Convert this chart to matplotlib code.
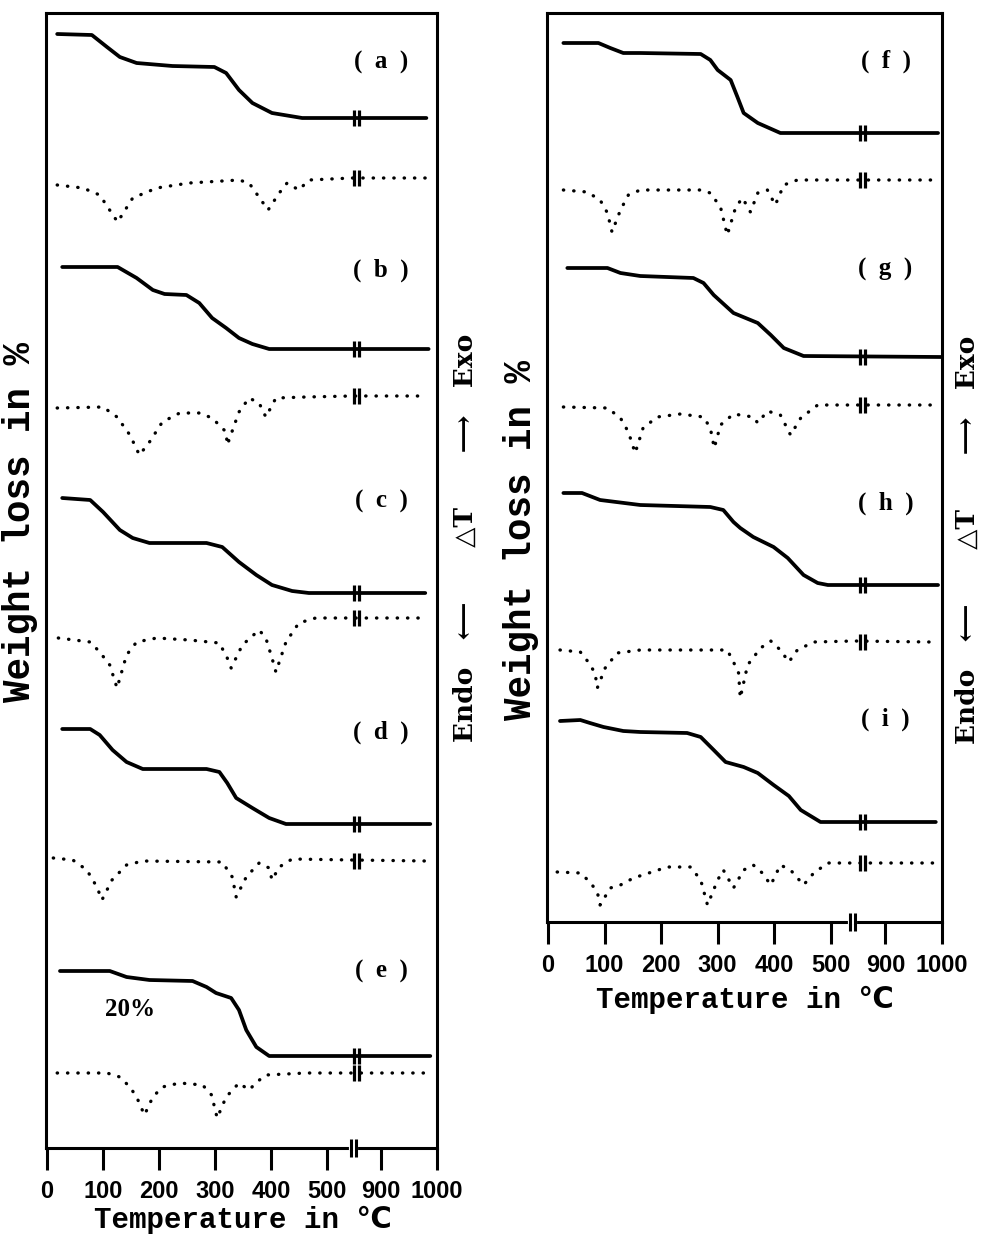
import numpy as np
import matplotlib.pyplot as plt

# ---- TG / DTA traces ----
# temperatures in degC; TG = downward drop from the start level, DTA = deflection (neg = endo)
a_tg_t = [18, 80, 107, 130, 160, 224, 299, 320, 343, 367, 402, 456, 981]
a_tg_y = [0, 1, 13, 23, 29, 32, 33, 39, 56, 69, 79, 84, 84]
a_dta_t = [18, 64, 94, 126, 153, 196, 254, 343, 361, 395, 415, 429, 450, 468, 545, 984]
a_dta_y = [-7, -10, -17, -44, -20, -10, -5, -2, -5, -32, -15, -5, -12, -2, 0, 0]

b_tg_t = [27, 126, 160, 189, 210, 249, 272, 295, 320, 343, 367, 397, 985]
b_tg_y = [0, 0, 11, 23, 27, 28, 36, 51, 61, 71, 77, 82, 82]
b_dta_t = [18, 100, 125, 148, 165, 183, 206, 237, 272, 295, 320, 322, 343, 361, 379, 391, 409, 463, 545, 981]
b_dta_y = [-12, -11, -21, -39, -59, -46, -26, -17, -17, -22, -36, -49, -16, -2, -7, -21, -2, -1, 0, 0]

c_tg_t = [27, 77, 100, 130, 153, 183, 285, 313, 343, 374, 402, 438, 468, 979]
c_tg_y = [0, 2, 14, 32, 40, 45, 45, 49, 64, 77, 87, 93, 95, 95]
c_dta_t = [20, 77, 94, 112, 125, 142, 160, 196, 254, 308, 322, 329, 349, 379, 391, 402, 409, 427, 450, 480, 545, 979]
c_dta_y = [-20, -24, -34, -47, -70, -37, -24, -20, -22, -25, -40, -50, -27, -12, -20, -40, -54, -24, -5, 0, 0, 0]

d_tg_t = [27, 77, 94, 117, 142, 171, 285, 308, 322, 338, 367, 397, 427, 988]
d_tg_y = [0, 0, 6, 21, 33, 40, 40, 43, 54, 69, 79, 89, 95, 95]
d_dta_t = [11, 46, 71, 89, 98, 116, 142, 171, 313, 331, 338, 356, 379, 397, 402, 415, 438, 545, 981]
d_dta_y = [2, 0, -10, -27, -40, -20, -5, -1, -2, -17, -37, -17, -3, -8, -20, -7, 1, 0, -1]

e_tg_t = [23, 112, 142, 183, 260, 285, 302, 329, 343, 356, 374, 397, 988]
e_tg_y = [0, 0, 6, 9, 10, 16, 22, 27, 39, 59, 76, 85, 85]
e_dta_t = [18, 107, 130, 148, 160, 174, 189, 206, 237, 278, 294, 304, 320, 343, 361, 375, 391, 463, 534, 981]
e_dta_y = [0, 0, -4, -14, -24, -42, -24, -14, -10, -12, -22, -45, -24, -10, -17, -9, -2, 0, 0, 0]

f_tg_t = [27, 89, 110, 133, 163, 270, 287, 300, 323, 335, 346, 371, 411, 434, 993]
f_tg_y = [0, 0, 5, 10, 10, 11, 17, 27, 37, 54, 70, 80, 90, 90, 90]
f_dta_t = [27, 69, 92, 105, 113, 128, 142, 163, 270, 287, 305, 317, 332, 344, 358, 371, 388, 402, 417, 441, 541, 986]
f_dta_y = [-10, -12, -20, -33, -52, -30, -15, -10, -10, -13, -27, -55, -27, -18, -32, -13, -10, -25, -5, 0, 0, 0]

g_tg_t = [34, 105, 128, 163, 257, 275, 293, 328, 371, 394, 417, 452, 998]
g_tg_y = [0, 0, 5, 8, 10, 15, 27, 45, 55, 67, 80, 88, 89]
g_dta_t = [27, 105, 128, 142, 154, 168, 193, 234, 275, 287, 294, 305, 328, 363, 371, 388, 411, 429, 447, 477, 544, 993]
g_dta_y = [-2, -3, -13, -27, -48, -23, -12, -9, -12, -23, -43, -20, -9, -12, -18, -6, -10, -30, -13, 0, 0, 0]

h_tg_t = [27, 60, 92, 163, 287, 310, 328, 340, 363, 399, 424, 452, 477, 495, 993]
h_tg_y = [0, 0, 7, 12, 14, 17, 29, 35, 44, 54, 65, 82, 90, 92, 92]
h_dta_t = [21, 57, 71, 83, 87, 101, 122, 163, 317, 328, 337, 340, 353, 376, 394, 411, 426, 441, 470, 541, 980]
h_dta_y = [-8, -10, -20, -31, -46, -26, -11, -8, -8, -20, -31, -56, -23, -6, 1, -8, -20, -8, 0, 1, 0]

i_tg_t = [21, 57, 74, 98, 133, 163, 246, 270, 293, 314, 346, 371, 399, 426, 447, 482, 989]
i_tg_y = [0, -1, 2, 6, 10, 11, 12, 16, 29, 41, 46, 52, 64, 75, 89, 101, 101]
i_dta_t = [16, 57, 74, 87, 92, 110, 128, 151, 211, 252, 270, 282, 300, 310, 328, 346, 363, 379, 394, 411, 429,
           452, 470, 495, 530, 986]
i_dta_y = [-9, -10, -19, -29, -42, -25, -22, -15, -4, -4, -17, -42, -17, -7, -25, -7, -2, -10, -22, -2, -7,
           -22, -10, 0, 0, 0]

tick_temps = [0, 100, 200, 300, 400, 500, 900, 1000]
tick_labels = ['0', '100', '200', '300', '400', '500', '900', '1000']


def tpos(t):
    # broken temperature axis: 500 .. 900 squeezed out
    t = np.asarray(t, dtype=float)
    return np.where(t <= 550, t, t - 303)


W, H = 982, 1235
fig = plt.figure(figsize=(W / 100, H / 100), dpi=100)


def rect(l, t, r, b):
    return [l / W, 1 - b / H, (r - l) / W, (b - t) / H]


axL = fig.add_axes(rect(46, 13, 437, 1148))
axR = fig.add_axes(rect(547, 13, 942, 922))
axL.set_ylim(1148, 13)
axR.set_ylim(922, 13)

# (axes, letter, tg, dta, tg start level, dta base level, label level)
samples = [
    (axL, 'a', a_tg_t, a_tg_y, a_dta_t, a_dta_y, 34, 178, 62),
    (axL, 'b', b_tg_t, b_tg_y, b_dta_t, b_dta_y, 267, 396, 270),
    (axL, 'c', c_tg_t, c_tg_y, c_dta_t, c_dta_y, 498, 618, 501),
    (axL, 'd', d_tg_t, d_tg_y, d_dta_t, d_dta_y, 729, 860, 732),
    (axL, 'e', e_tg_t, e_tg_y, e_dta_t, e_dta_y, 971, 1073, 971),
    (axR, 'f', f_tg_t, f_tg_y, f_dta_t, f_dta_y, 43, 180, 61),
    (axR, 'g', g_tg_t, g_tg_y, g_dta_t, g_dta_y, 268, 405, 269),
    (axR, 'h', h_tg_t, h_tg_y, h_dta_t, h_dta_y, 493, 642, 503),
    (axR, 'i', i_tg_t, i_tg_y, i_dta_t, i_dta_y, 721, 863, 719),
]
curve_break = {axL: 553, axR: 557}
axis_break = {axL: 548, axR: 539}
serif = ['Liberation Serif', 'DejaVu Serif']

for ax, let, tt, ty, dt, dy, top, base, ly in samples:
    tg = top + np.asarray(ty)
    ax.plot(tpos(tt), tg, color='k', lw=2.7, solid_joinstyle='round', solid_capstyle='round')
    dta = base - np.asarray(dy)
    ax.plot(tpos(dt), dta, color='k', lw=2.4, linestyle=(0, (0.1, 3.0)), dash_capstyle='round')
    ub = curve_break[ax]
    for yy in (tg[-1], dta[-1]):
        ax.plot([ub - 4.5, ub + 4.5], [yy, yy], ls='none', marker='|', ms=11, mew=2.3, color='k')
    ax.text(0.857, ly, '(  %s  )' % let, transform=ax.get_yaxis_transform(), ha='center', va='center',
            fontsize=18, fontweight='bold', family=serif)

axL.text(149, 1010, '20%', ha='center', va='center', fontsize=18, fontweight='bold', family=serif)

for ax in (axL, axR):
    ax.set_xlim(-2, 697)
    ax.set_yticks([])
    for s in ax.spines.values():
        s.set_linewidth(2.2)
    ax.set_xticks(tpos(tick_temps))
    ax.set_xticklabels(tick_labels, fontsize=17, fontweight='bold',
                       family=['Liberation Sans', 'DejaVu Sans'])
    ax.tick_params(axis='x', direction='out', length=16, width=2.2, pad=7)
    yb = ax.get_ylim()[0]
    ab = axis_break[ax]
    ax.plot([ab - 4, ab + 4], [yb, yb], color='white', lw=3, clip_on=False, zorder=4)
    ax.plot([ab - 4.5, ab + 4.5], [yb, yb], ls='none', marker='|', ms=13, mew=2.2, color='k',
            clip_on=False, zorder=5)

lab_font = ['Liberation Mono', 'DejaVu Sans', 'Noto Sans CJK SC']
dta_font = ['DejaVu Serif', 'DejaVu Sans']


def ftxt(x, y, s, va='center', **kw):
    fig.text(x / W, 1 - y / H, s, ha='center', va=va, fontweight='bold', **kw)


ftxt(243, 1228, 'Temperature in ℃', va='baseline', fontsize=21, family=lab_font)
ftxt(745, 1008, 'Temperature in ℃', va='baseline', fontsize=21, family=lab_font)
ftxt(20, 522, 'Weight loss in %', fontsize=27, rotation=90, family=lab_font)
ftxt(521, 540, 'Weight loss in %', fontsize=27, rotation=90, family=lab_font)
ftxt(465, 538, 'Endo   ⟵      △T      ⟶   Exo', fontsize=19, rotation=90, family=dta_font)
ftxt(967, 540, 'Endo   ⟵      △T      ⟶   Exo', fontsize=19, rotation=90, family=dta_font)

fig.savefig('out.png', dpi=100)
